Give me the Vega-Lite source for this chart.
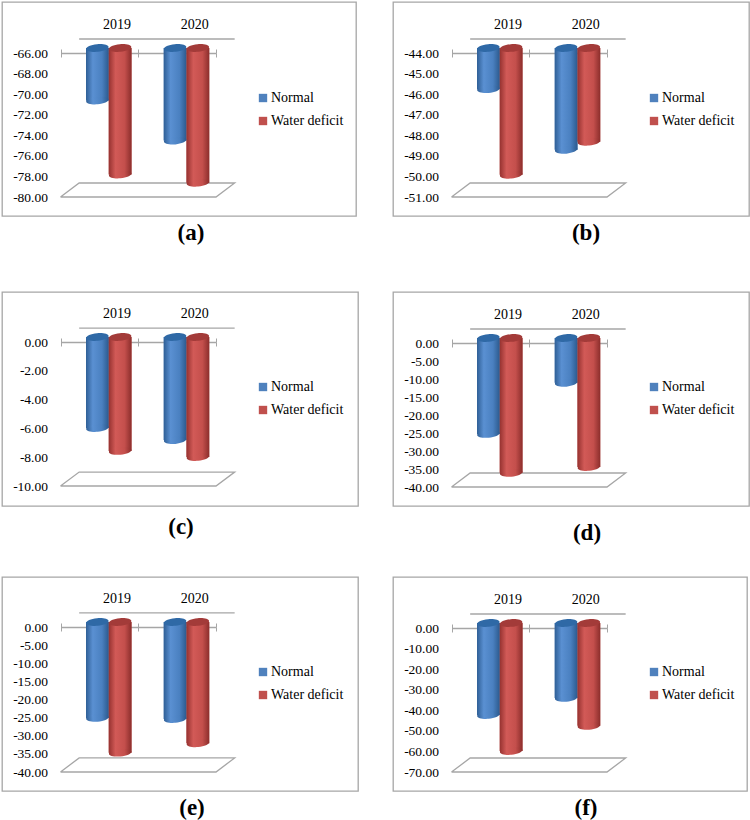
{"$schema":"https://vega.github.io/schema/vega-lite/v6.json","background":"white","padding":{"left":1,"top":1,"right":0,"bottom":0},"bounds":"flush","spacing":290,
"config":{"view":{"stroke":"#a6a6a6","strokeWidth":1.3},"font":"Liberation Serif","title":{"font":"Liberation Serif","fontSize":23,"fontWeight":"bold","color":"#000"}},
"resolve":{"legend":{"color":"independent"},"scale":{"color":"independent"}},
"datasets":{
"a":[{"year":"2019","series":"Normal","val":-71.1,"top":-66},{"year":"2019","series":"Water deficit","val":-78.3,"top":-66},{"year":"2020","series":"Normal","val":-75.0,"top":-66},{"year":"2020","series":"Water deficit","val":-79.1,"top":-66}],
"b":[{"year":"2019","series":"Normal","val":-46.0,"top":-44},{"year":"2019","series":"Water deficit","val":-50.16,"top":-44},{"year":"2020","series":"Normal","val":-48.95,"top":-44},{"year":"2020","series":"Water deficit","val":-48.56,"top":-44}],
"c":[{"year":"2019","series":"Normal","val":-6.32,"top":0},{"year":"2019","series":"Water deficit","val":-7.91,"top":0},{"year":"2020","series":"Normal","val":-7.16,"top":0},{"year":"2020","series":"Water deficit","val":-8.33,"top":0}],
"d":[{"year":"2019","series":"Normal","val":-26.65,"top":0},{"year":"2019","series":"Water deficit","val":-37.45,"top":0},{"year":"2020","series":"Normal","val":-12.45,"top":0},{"year":"2020","series":"Water deficit","val":-35.85,"top":0}],
"e":[{"year":"2019","series":"Normal","val":-26.45,"top":0},{"year":"2019","series":"Water deficit","val":-36.05,"top":0},{"year":"2020","series":"Normal","val":-26.75,"top":0},{"year":"2020","series":"Water deficit","val":-33.45,"top":0}],
"f":[{"year":"2019","series":"Normal","val":-44.7,"top":0},{"year":"2019","series":"Water deficit","val":-62.2,"top":0},{"year":"2020","series":"Normal","val":-36.4,"top":0},{"year":"2020","series":"Water deficit","val":-50,"top":0}],
"afloor":[{"part":"floor","i":0,"pos":0,"val":-80},{"part":"floor","i":1,"pos":0.24,"val":-78.64},{"part":"floor","i":2,"pos":2.24,"val":-78.64},{"part":"floor","i":3,"pos":2,"val":-80},{"part":"floor","i":4,"pos":0,"val":-80},{"part":"wall","i":0,"pos":0.24,"val":-64.64},{"part":"wall","i":1,"pos":2.24,"val":-64.64}],
"bfloor":[{"part":"floor","i":0,"pos":0,"val":-51},{"part":"floor","i":1,"pos":0.24,"val":-50.32},{"part":"floor","i":2,"pos":2.24,"val":-50.32},{"part":"floor","i":3,"pos":2,"val":-51},{"part":"floor","i":4,"pos":0,"val":-51},{"part":"wall","i":0,"pos":0.24,"val":-43.32},{"part":"wall","i":1,"pos":2.24,"val":-43.32}],
"cfloor":[{"part":"floor","i":0,"pos":0,"val":-10},{"part":"floor","i":1,"pos":0.24,"val":-9.03},{"part":"floor","i":2,"pos":2.24,"val":-9.03},{"part":"floor","i":3,"pos":2,"val":-10},{"part":"floor","i":4,"pos":0,"val":-10},{"part":"wall","i":0,"pos":0.24,"val":0.97},{"part":"wall","i":1,"pos":2.24,"val":0.97}],
"dfloor":[{"part":"floor","i":0,"pos":0,"val":-40},{"part":"floor","i":1,"pos":0.24,"val":-36.11},{"part":"floor","i":2,"pos":2.24,"val":-36.11},{"part":"floor","i":3,"pos":2,"val":-40},{"part":"floor","i":4,"pos":0,"val":-40},{"part":"wall","i":0,"pos":0.24,"val":3.89},{"part":"wall","i":1,"pos":2.24,"val":3.89}],
"ffloor":[{"part":"floor","i":0,"pos":0,"val":-70},{"part":"floor","i":1,"pos":0.24,"val":-63.2},{"part":"floor","i":2,"pos":2.24,"val":-63.2},{"part":"floor","i":3,"pos":2,"val":-70},{"part":"floor","i":4,"pos":0,"val":-70},{"part":"wall","i":0,"pos":0.24,"val":6.8},{"part":"wall","i":1,"pos":2.24,"val":6.8}]
},
"vconcat":[
{"hconcat":[
{"width":354,"height":214,"title":{"text":"(a)","orient":"bottom","offset":6,"dx":12},"data":{"name":"a"},"resolve":{"scale":{"x":"independent","xOffset":"independent"}},"layer":[
{"data":{"name":"afloor"},"mark":{"type":"line","color":"#a6a6a6","strokeWidth":1.3},"encoding":{"x":{"field":"pos","type":"quantitative","axis":null,"scale":{"domain":[0,2],"range":[58.5,214],"zero":false,"nice":false}},"y":{"field":"val","type":"quantitative","title":null,"scale":{"domain":[-80,-66],"range":[195,51],"nice":false,"zero":false},"axis":{"orient":"left","offset":-58.5,"values":[-66,-68,-70,-72,-74,-76,-78,-80],"tickCount":20,"domain":false,"ticks":false,"grid":false,"labelOverlap":false,"labelPadding":13,"labelFontSize":13.5,"labelFont":"Liberation Serif","labelColor":"#000","labelExpr":"replace(format(datum.value,'.2f'),'−','-')"}},"detail":{"field":"part"},"order":{"field":"i"}}},
{"mark":{"type":"bar","yOffset":-5,"y2Offset":-5},"encoding":{"x":{"field":"year","type":"nominal","title":null,"scale":{"range":[58.5,214],"paddingInner":0,"paddingOuter":0},"axis":{"orient":"top","offset":-51,"labelAngle":0,"tickBand":"extent","tickSize":4,"tickColor":"#a6a6a6","domainColor":"#a6a6a6","domainWidth":1.3,"labelFontSize":14,"labelFont":"Liberation Serif","labelColor":"#000","labelPadding":18,"labelOffset":17}},"xOffset":{"field":"series","type":"nominal","scale":{"range":[25.5,71]}},"y":{"field":"val","type":"quantitative"},"y2":{"field":"top"},"color":{"field":"series","type":"nominal","title":null,"scale":{"domain":["Normal","Water deficit"],"range":["#4f81bd","#c0504d"]},"legend":{"orient":"none","legendX":254,"legendY":89,"symbolType":"square","symbolSize":70,"symbolStrokeWidth":0,"labelFontSize":14,"labelFont":"Liberation Serif","labelColor":"#000","rowPadding":9,"labelOffset":1}}}},
{"mark":{"type":"bar","yOffset":-5,"y2Offset":-5},"encoding":{"x":{"field":"year","type":"nominal","axis":null,"scale":{"range":[58.5,214],"paddingInner":0,"paddingOuter":0}},"xOffset":{"field":"series","type":"nominal","scale":{"range":[25.5,71]}},"y":{"field":"val","type":"quantitative"},"y2":{"field":"top"},"color":{"condition":{"test":"datum.series==='Normal'","value":{"gradient":"linear","x1":0,"x2":1,"y1":0,"y2":0,"stops":[{"offset":0,"color":"#2f5f96"},{"offset":0.3,"color":"#5a90d2"},{"offset":0.7,"color":"#4a80c0"},{"offset":1,"color":"#2c5a8e"}]}},"value":{"gradient":"linear","x1":0,"x2":1,"y1":0,"y2":0,"stops":[{"offset":0,"color":"#963230"},{"offset":0.3,"color":"#d25a57"},{"offset":0.7,"color":"#c44f4c"},{"offset":1,"color":"#8c2e2c"}]}}}},
{"mark":{"type":"point","filled":true,"opacity":1,"shape":"M-1,0A1,0.34,0,1,1,1,0A1,0.34,0,1,1,-1,0Z","size":506,"yOffset":-5,"angle":-5},"encoding":{"x":{"field":"year","type":"nominal","scale":{"range":[58.5,214],"paddingInner":0,"paddingOuter":0},"axis":{"orient":"bottom","offset":-163,"labels":false,"domain":false,"title":null,"tickBand":"extent","tickSize":4,"tickColor":"#a6a6a6"}},"xOffset":{"field":"series","type":"nominal","scale":{"range":[25.5,71]}},"y":{"field":"val","type":"quantitative"},"color":{"condition":{"test":"datum.series==='Normal'","value":{"gradient":"linear","x1":0,"x2":1,"y1":0,"y2":0,"stops":[{"offset":0,"color":"#2f5f96"},{"offset":0.3,"color":"#5a90d2"},{"offset":0.7,"color":"#4a80c0"},{"offset":1,"color":"#2c5a8e"}]}},"value":{"gradient":"linear","x1":0,"x2":1,"y1":0,"y2":0,"stops":[{"offset":0,"color":"#963230"},{"offset":0.3,"color":"#d25a57"},{"offset":0.7,"color":"#c44f4c"},{"offset":1,"color":"#8c2e2c"}]}}}},
{"mark":{"type":"point","filled":true,"opacity":1,"shape":"M-1,0A1,0.34,0,1,1,1,0A1,0.34,0,1,1,-1,0Z","size":506,"yOffset":-5,"angle":-5},"encoding":{"x":{"field":"year","type":"nominal","axis":null,"scale":{"range":[58.5,214],"paddingInner":0,"paddingOuter":0}},"xOffset":{"field":"series","type":"nominal","scale":{"range":[25.5,71]}},"y":{"field":"top","type":"quantitative"},"color":{"condition":{"test":"datum.series==='Normal'","value":"#2f69a6"},"value":"#a33b39"}}}
]},
{"width":356,"height":214,"title":{"text":"(b)","orient":"bottom","offset":6,"dx":15},"data":{"name":"b"},"resolve":{"scale":{"x":"independent","xOffset":"independent"}},"layer":[
{"data":{"name":"bfloor"},"mark":{"type":"line","color":"#a6a6a6","strokeWidth":1.3},"encoding":{"x":{"field":"pos","type":"quantitative","axis":null,"scale":{"domain":[0,2],"range":[58.5,214],"zero":false,"nice":false}},"y":{"field":"val","type":"quantitative","title":null,"scale":{"domain":[-51,-44],"range":[195,51],"nice":false,"zero":false},"axis":{"orient":"left","offset":-58.5,"values":[-44,-45,-46,-47,-48,-49,-50,-51],"tickCount":20,"domain":false,"ticks":false,"grid":false,"labelOverlap":false,"labelPadding":13,"labelFontSize":13.5,"labelFont":"Liberation Serif","labelColor":"#000","labelExpr":"replace(format(datum.value,'.2f'),'−','-')"}},"detail":{"field":"part"},"order":{"field":"i"}}},
{"mark":{"type":"bar","yOffset":-5,"y2Offset":-5},"encoding":{"x":{"field":"year","type":"nominal","title":null,"scale":{"range":[58.5,214],"paddingInner":0,"paddingOuter":0},"axis":{"orient":"top","offset":-51,"labelAngle":0,"tickBand":"extent","tickSize":4,"tickColor":"#a6a6a6","domainColor":"#a6a6a6","domainWidth":1.3,"labelFontSize":14,"labelFont":"Liberation Serif","labelColor":"#000","labelPadding":18,"labelOffset":17}},"xOffset":{"field":"series","type":"nominal","scale":{"range":[25.5,71]}},"y":{"field":"val","type":"quantitative"},"y2":{"field":"top"},"color":{"field":"series","type":"nominal","title":null,"scale":{"domain":["Normal","Water deficit"],"range":["#4f81bd","#c0504d"]},"legend":{"orient":"none","legendX":254,"legendY":89,"symbolType":"square","symbolSize":70,"symbolStrokeWidth":0,"labelFontSize":14,"labelFont":"Liberation Serif","labelColor":"#000","rowPadding":9,"labelOffset":1}}}},
{"mark":{"type":"bar","yOffset":-5,"y2Offset":-5},"encoding":{"x":{"field":"year","type":"nominal","axis":null,"scale":{"range":[58.5,214],"paddingInner":0,"paddingOuter":0}},"xOffset":{"field":"series","type":"nominal","scale":{"range":[25.5,71]}},"y":{"field":"val","type":"quantitative"},"y2":{"field":"top"},"color":{"condition":{"test":"datum.series==='Normal'","value":{"gradient":"linear","x1":0,"x2":1,"y1":0,"y2":0,"stops":[{"offset":0,"color":"#2f5f96"},{"offset":0.3,"color":"#5a90d2"},{"offset":0.7,"color":"#4a80c0"},{"offset":1,"color":"#2c5a8e"}]}},"value":{"gradient":"linear","x1":0,"x2":1,"y1":0,"y2":0,"stops":[{"offset":0,"color":"#963230"},{"offset":0.3,"color":"#d25a57"},{"offset":0.7,"color":"#c44f4c"},{"offset":1,"color":"#8c2e2c"}]}}}},
{"mark":{"type":"point","filled":true,"opacity":1,"shape":"M-1,0A1,0.34,0,1,1,1,0A1,0.34,0,1,1,-1,0Z","size":506,"yOffset":-5,"angle":-5},"encoding":{"x":{"field":"year","type":"nominal","scale":{"range":[58.5,214],"paddingInner":0,"paddingOuter":0},"axis":{"orient":"bottom","offset":-163,"labels":false,"domain":false,"title":null,"tickBand":"extent","tickSize":4,"tickColor":"#a6a6a6"}},"xOffset":{"field":"series","type":"nominal","scale":{"range":[25.5,71]}},"y":{"field":"val","type":"quantitative"},"color":{"condition":{"test":"datum.series==='Normal'","value":{"gradient":"linear","x1":0,"x2":1,"y1":0,"y2":0,"stops":[{"offset":0,"color":"#2f5f96"},{"offset":0.3,"color":"#5a90d2"},{"offset":0.7,"color":"#4a80c0"},{"offset":1,"color":"#2c5a8e"}]}},"value":{"gradient":"linear","x1":0,"x2":1,"y1":0,"y2":0,"stops":[{"offset":0,"color":"#963230"},{"offset":0.3,"color":"#d25a57"},{"offset":0.7,"color":"#c44f4c"},{"offset":1,"color":"#8c2e2c"}]}}}},
{"mark":{"type":"point","filled":true,"opacity":1,"shape":"M-1,0A1,0.34,0,1,1,1,0A1,0.34,0,1,1,-1,0Z","size":506,"yOffset":-5,"angle":-5},"encoding":{"x":{"field":"year","type":"nominal","axis":null,"scale":{"range":[58.5,214],"paddingInner":0,"paddingOuter":0}},"xOffset":{"field":"series","type":"nominal","scale":{"range":[25.5,71]}},"y":{"field":"top","type":"quantitative"},"color":{"condition":{"test":"datum.series==='Normal'","value":"#2f69a6"},"value":"#a33b39"}}}
]}
],"bounds":"flush","spacing":37,"resolve":{"legend":{"color":"independent"},"scale":{"color":"independent"}}},
{"vconcat":[
{"hconcat":[
{"width":356,"height":214,"title":{"text":"(c)","orient":"bottom","offset":10,"dx":1},"data":{"name":"c"},"resolve":{"scale":{"x":"independent","xOffset":"independent"}},"layer":[
{"data":{"name":"cfloor"},"mark":{"type":"line","color":"#a6a6a6","strokeWidth":1.3},"encoding":{"x":{"field":"pos","type":"quantitative","axis":null,"scale":{"domain":[0,2],"range":[58.5,214],"zero":false,"nice":false}},"y":{"field":"val","type":"quantitative","title":null,"scale":{"domain":[-10,0],"range":[194,50],"nice":false,"zero":false},"axis":{"orient":"left","offset":-58.5,"values":[0,-2,-4,-6,-8,-10],"tickCount":20,"domain":false,"ticks":false,"grid":false,"labelOverlap":false,"labelPadding":13,"labelFontSize":13.5,"labelFont":"Liberation Serif","labelColor":"#000","labelExpr":"replace(format(datum.value,'.2f'),'−','-')"}},"detail":{"field":"part"},"order":{"field":"i"}}},
{"mark":{"type":"bar","yOffset":-5,"y2Offset":-5},"encoding":{"x":{"field":"year","type":"nominal","title":null,"scale":{"range":[58.5,214],"paddingInner":0,"paddingOuter":0},"axis":{"orient":"top","offset":-50,"labelAngle":0,"tickBand":"extent","tickSize":4,"tickColor":"#a6a6a6","domainColor":"#a6a6a6","domainWidth":1.3,"labelFontSize":14,"labelFont":"Liberation Serif","labelColor":"#000","labelPadding":18,"labelOffset":17}},"xOffset":{"field":"series","type":"nominal","scale":{"range":[25.5,71]}},"y":{"field":"val","type":"quantitative"},"y2":{"field":"top"},"color":{"field":"series","type":"nominal","title":null,"scale":{"domain":["Normal","Water deficit"],"range":["#4f81bd","#c0504d"]},"legend":{"orient":"none","legendX":254,"legendY":88,"symbolType":"square","symbolSize":70,"symbolStrokeWidth":0,"labelFontSize":14,"labelFont":"Liberation Serif","labelColor":"#000","rowPadding":9,"labelOffset":1}}}},
{"mark":{"type":"bar","yOffset":-5,"y2Offset":-5},"encoding":{"x":{"field":"year","type":"nominal","axis":null,"scale":{"range":[58.5,214],"paddingInner":0,"paddingOuter":0}},"xOffset":{"field":"series","type":"nominal","scale":{"range":[25.5,71]}},"y":{"field":"val","type":"quantitative"},"y2":{"field":"top"},"color":{"condition":{"test":"datum.series==='Normal'","value":{"gradient":"linear","x1":0,"x2":1,"y1":0,"y2":0,"stops":[{"offset":0,"color":"#2f5f96"},{"offset":0.3,"color":"#5a90d2"},{"offset":0.7,"color":"#4a80c0"},{"offset":1,"color":"#2c5a8e"}]}},"value":{"gradient":"linear","x1":0,"x2":1,"y1":0,"y2":0,"stops":[{"offset":0,"color":"#963230"},{"offset":0.3,"color":"#d25a57"},{"offset":0.7,"color":"#c44f4c"},{"offset":1,"color":"#8c2e2c"}]}}}},
{"mark":{"type":"point","filled":true,"opacity":1,"shape":"M-1,0A1,0.34,0,1,1,1,0A1,0.34,0,1,1,-1,0Z","size":506,"yOffset":-5,"angle":-5},"encoding":{"x":{"field":"year","type":"nominal","scale":{"range":[58.5,214],"paddingInner":0,"paddingOuter":0},"axis":{"orient":"bottom","offset":-164,"labels":false,"domain":false,"title":null,"tickBand":"extent","tickSize":4,"tickColor":"#a6a6a6"}},"xOffset":{"field":"series","type":"nominal","scale":{"range":[25.5,71]}},"y":{"field":"val","type":"quantitative"},"color":{"condition":{"test":"datum.series==='Normal'","value":{"gradient":"linear","x1":0,"x2":1,"y1":0,"y2":0,"stops":[{"offset":0,"color":"#2f5f96"},{"offset":0.3,"color":"#5a90d2"},{"offset":0.7,"color":"#4a80c0"},{"offset":1,"color":"#2c5a8e"}]}},"value":{"gradient":"linear","x1":0,"x2":1,"y1":0,"y2":0,"stops":[{"offset":0,"color":"#963230"},{"offset":0.3,"color":"#d25a57"},{"offset":0.7,"color":"#c44f4c"},{"offset":1,"color":"#8c2e2c"}]}}}},
{"mark":{"type":"point","filled":true,"opacity":1,"shape":"M-1,0A1,0.34,0,1,1,1,0A1,0.34,0,1,1,-1,0Z","size":506,"yOffset":-5,"angle":-5},"encoding":{"x":{"field":"year","type":"nominal","axis":null,"scale":{"range":[58.5,214],"paddingInner":0,"paddingOuter":0}},"xOffset":{"field":"series","type":"nominal","scale":{"range":[25.5,71]}},"y":{"field":"top","type":"quantitative"},"color":{"condition":{"test":"datum.series==='Normal'","value":"#2f69a6"},"value":"#a33b39"}}}
]},
{"width":356,"height":214,"title":{"text":"(d)","orient":"bottom","offset":16,"dx":16},"data":{"name":"d"},"resolve":{"scale":{"x":"independent","xOffset":"independent"}},"layer":[
{"data":{"name":"dfloor"},"mark":{"type":"line","color":"#a6a6a6","strokeWidth":1.3},"encoding":{"x":{"field":"pos","type":"quantitative","axis":null,"scale":{"domain":[0,2],"range":[58.5,214],"zero":false,"nice":false}},"y":{"field":"val","type":"quantitative","title":null,"scale":{"domain":[-40,0],"range":[195,51],"nice":false,"zero":false},"axis":{"orient":"left","offset":-58.5,"values":[0,-5,-10,-15,-20,-25,-30,-35,-40],"tickCount":20,"domain":false,"ticks":false,"grid":false,"labelOverlap":false,"labelPadding":13,"labelFontSize":13.5,"labelFont":"Liberation Serif","labelColor":"#000","labelExpr":"replace(format(datum.value,'.2f'),'−','-')"}},"detail":{"field":"part"},"order":{"field":"i"}}},
{"mark":{"type":"bar","yOffset":-5,"y2Offset":-5},"encoding":{"x":{"field":"year","type":"nominal","title":null,"scale":{"range":[58.5,214],"paddingInner":0,"paddingOuter":0},"axis":{"orient":"top","offset":-51,"labelAngle":0,"tickBand":"extent","tickSize":4,"tickColor":"#a6a6a6","domainColor":"#a6a6a6","domainWidth":1.3,"labelFontSize":14,"labelFont":"Liberation Serif","labelColor":"#000","labelPadding":18,"labelOffset":17}},"xOffset":{"field":"series","type":"nominal","scale":{"range":[25.5,71]}},"y":{"field":"val","type":"quantitative"},"y2":{"field":"top"},"color":{"field":"series","type":"nominal","title":null,"scale":{"domain":["Normal","Water deficit"],"range":["#4f81bd","#c0504d"]},"legend":{"orient":"none","legendX":254,"legendY":88,"symbolType":"square","symbolSize":70,"symbolStrokeWidth":0,"labelFontSize":14,"labelFont":"Liberation Serif","labelColor":"#000","rowPadding":9,"labelOffset":1}}}},
{"mark":{"type":"bar","yOffset":-5,"y2Offset":-5},"encoding":{"x":{"field":"year","type":"nominal","axis":null,"scale":{"range":[58.5,214],"paddingInner":0,"paddingOuter":0}},"xOffset":{"field":"series","type":"nominal","scale":{"range":[25.5,71]}},"y":{"field":"val","type":"quantitative"},"y2":{"field":"top"},"color":{"condition":{"test":"datum.series==='Normal'","value":{"gradient":"linear","x1":0,"x2":1,"y1":0,"y2":0,"stops":[{"offset":0,"color":"#2f5f96"},{"offset":0.3,"color":"#5a90d2"},{"offset":0.7,"color":"#4a80c0"},{"offset":1,"color":"#2c5a8e"}]}},"value":{"gradient":"linear","x1":0,"x2":1,"y1":0,"y2":0,"stops":[{"offset":0,"color":"#963230"},{"offset":0.3,"color":"#d25a57"},{"offset":0.7,"color":"#c44f4c"},{"offset":1,"color":"#8c2e2c"}]}}}},
{"mark":{"type":"point","filled":true,"opacity":1,"shape":"M-1,0A1,0.34,0,1,1,1,0A1,0.34,0,1,1,-1,0Z","size":506,"yOffset":-5,"angle":-5},"encoding":{"x":{"field":"year","type":"nominal","scale":{"range":[58.5,214],"paddingInner":0,"paddingOuter":0},"axis":{"orient":"bottom","offset":-163,"labels":false,"domain":false,"title":null,"tickBand":"extent","tickSize":4,"tickColor":"#a6a6a6"}},"xOffset":{"field":"series","type":"nominal","scale":{"range":[25.5,71]}},"y":{"field":"val","type":"quantitative"},"color":{"condition":{"test":"datum.series==='Normal'","value":{"gradient":"linear","x1":0,"x2":1,"y1":0,"y2":0,"stops":[{"offset":0,"color":"#2f5f96"},{"offset":0.3,"color":"#5a90d2"},{"offset":0.7,"color":"#4a80c0"},{"offset":1,"color":"#2c5a8e"}]}},"value":{"gradient":"linear","x1":0,"x2":1,"y1":0,"y2":0,"stops":[{"offset":0,"color":"#963230"},{"offset":0.3,"color":"#d25a57"},{"offset":0.7,"color":"#c44f4c"},{"offset":1,"color":"#8c2e2c"}]}}}},
{"mark":{"type":"point","filled":true,"opacity":1,"shape":"M-1,0A1,0.34,0,1,1,1,0A1,0.34,0,1,1,-1,0Z","size":506,"yOffset":-5,"angle":-5},"encoding":{"x":{"field":"year","type":"nominal","axis":null,"scale":{"range":[58.5,214],"paddingInner":0,"paddingOuter":0}},"xOffset":{"field":"series","type":"nominal","scale":{"range":[25.5,71]}},"y":{"field":"top","type":"quantitative"},"color":{"condition":{"test":"datum.series==='Normal'","value":"#2f69a6"},"value":"#a33b39"}}}
]}
],"bounds":"flush","spacing":35,"resolve":{"legend":{"color":"independent"},"scale":{"color":"independent"}}},
{"hconcat":[
{"width":356,"height":214,"title":{"text":"(e)","orient":"bottom","offset":6,"dx":12},"data":{"name":"e"},"resolve":{"scale":{"x":"independent","xOffset":"independent"}},"layer":[
{"data":{"name":"dfloor"},"mark":{"type":"line","color":"#a6a6a6","strokeWidth":1.3},"encoding":{"x":{"field":"pos","type":"quantitative","axis":null,"scale":{"domain":[0,2],"range":[58.5,214],"zero":false,"nice":false}},"y":{"field":"val","type":"quantitative","title":null,"scale":{"domain":[-40,0],"range":[195,50],"nice":false,"zero":false},"axis":{"orient":"left","offset":-58.5,"values":[0,-5,-10,-15,-20,-25,-30,-35,-40],"tickCount":20,"domain":false,"ticks":false,"grid":false,"labelOverlap":false,"labelPadding":13,"labelFontSize":13.5,"labelFont":"Liberation Serif","labelColor":"#000","labelExpr":"replace(format(datum.value,'.2f'),'−','-')"}},"detail":{"field":"part"},"order":{"field":"i"}}},
{"mark":{"type":"bar","yOffset":-5,"y2Offset":-5},"encoding":{"x":{"field":"year","type":"nominal","title":null,"scale":{"range":[58.5,214],"paddingInner":0,"paddingOuter":0},"axis":{"orient":"top","offset":-50,"labelAngle":0,"tickBand":"extent","tickSize":4,"tickColor":"#a6a6a6","domainColor":"#a6a6a6","domainWidth":1.3,"labelFontSize":14,"labelFont":"Liberation Serif","labelColor":"#000","labelPadding":18,"labelOffset":17}},"xOffset":{"field":"series","type":"nominal","scale":{"range":[25.5,71]}},"y":{"field":"val","type":"quantitative"},"y2":{"field":"top"},"color":{"field":"series","type":"nominal","title":null,"scale":{"domain":["Normal","Water deficit"],"range":["#4f81bd","#c0504d"]},"legend":{"orient":"none","legendX":254,"legendY":88,"symbolType":"square","symbolSize":70,"symbolStrokeWidth":0,"labelFontSize":14,"labelFont":"Liberation Serif","labelColor":"#000","rowPadding":9,"labelOffset":1}}}},
{"mark":{"type":"bar","yOffset":-5,"y2Offset":-5},"encoding":{"x":{"field":"year","type":"nominal","axis":null,"scale":{"range":[58.5,214],"paddingInner":0,"paddingOuter":0}},"xOffset":{"field":"series","type":"nominal","scale":{"range":[25.5,71]}},"y":{"field":"val","type":"quantitative"},"y2":{"field":"top"},"color":{"condition":{"test":"datum.series==='Normal'","value":{"gradient":"linear","x1":0,"x2":1,"y1":0,"y2":0,"stops":[{"offset":0,"color":"#2f5f96"},{"offset":0.3,"color":"#5a90d2"},{"offset":0.7,"color":"#4a80c0"},{"offset":1,"color":"#2c5a8e"}]}},"value":{"gradient":"linear","x1":0,"x2":1,"y1":0,"y2":0,"stops":[{"offset":0,"color":"#963230"},{"offset":0.3,"color":"#d25a57"},{"offset":0.7,"color":"#c44f4c"},{"offset":1,"color":"#8c2e2c"}]}}}},
{"mark":{"type":"point","filled":true,"opacity":1,"shape":"M-1,0A1,0.34,0,1,1,1,0A1,0.34,0,1,1,-1,0Z","size":506,"yOffset":-5,"angle":-5},"encoding":{"x":{"field":"year","type":"nominal","scale":{"range":[58.5,214],"paddingInner":0,"paddingOuter":0},"axis":{"orient":"bottom","offset":-164,"labels":false,"domain":false,"title":null,"tickBand":"extent","tickSize":4,"tickColor":"#a6a6a6"}},"xOffset":{"field":"series","type":"nominal","scale":{"range":[25.5,71]}},"y":{"field":"val","type":"quantitative"},"color":{"condition":{"test":"datum.series==='Normal'","value":{"gradient":"linear","x1":0,"x2":1,"y1":0,"y2":0,"stops":[{"offset":0,"color":"#2f5f96"},{"offset":0.3,"color":"#5a90d2"},{"offset":0.7,"color":"#4a80c0"},{"offset":1,"color":"#2c5a8e"}]}},"value":{"gradient":"linear","x1":0,"x2":1,"y1":0,"y2":0,"stops":[{"offset":0,"color":"#963230"},{"offset":0.3,"color":"#d25a57"},{"offset":0.7,"color":"#c44f4c"},{"offset":1,"color":"#8c2e2c"}]}}}},
{"mark":{"type":"point","filled":true,"opacity":1,"shape":"M-1,0A1,0.34,0,1,1,1,0A1,0.34,0,1,1,-1,0Z","size":506,"yOffset":-5,"angle":-5},"encoding":{"x":{"field":"year","type":"nominal","axis":null,"scale":{"range":[58.5,214],"paddingInner":0,"paddingOuter":0}},"xOffset":{"field":"series","type":"nominal","scale":{"range":[25.5,71]}},"y":{"field":"top","type":"quantitative"},"color":{"condition":{"test":"datum.series==='Normal'","value":"#2f69a6"},"value":"#a33b39"}}}
]},
{"width":354,"height":214,"title":{"text":"(f)","orient":"bottom","offset":6,"dx":16},"data":{"name":"f"},"resolve":{"scale":{"x":"independent","xOffset":"independent"}},"layer":[
{"data":{"name":"ffloor"},"mark":{"type":"line","color":"#a6a6a6","strokeWidth":1.3},"encoding":{"x":{"field":"pos","type":"quantitative","axis":null,"scale":{"domain":[0,2],"range":[58.5,214],"zero":false,"nice":false}},"y":{"field":"val","type":"quantitative","title":null,"scale":{"domain":[-70,0],"range":[195,51],"nice":false,"zero":false},"axis":{"orient":"left","offset":-58.5,"values":[0,-10,-20,-30,-40,-50,-60,-70],"tickCount":20,"domain":false,"ticks":false,"grid":false,"labelOverlap":false,"labelPadding":13,"labelFontSize":13.5,"labelFont":"Liberation Serif","labelColor":"#000","labelExpr":"replace(format(datum.value,'.2f'),'−','-')"}},"detail":{"field":"part"},"order":{"field":"i"}}},
{"mark":{"type":"bar","yOffset":-5,"y2Offset":-5},"encoding":{"x":{"field":"year","type":"nominal","title":null,"scale":{"range":[58.5,214],"paddingInner":0,"paddingOuter":0},"axis":{"orient":"top","offset":-51,"labelAngle":0,"tickBand":"extent","tickSize":4,"tickColor":"#a6a6a6","domainColor":"#a6a6a6","domainWidth":1.3,"labelFontSize":14,"labelFont":"Liberation Serif","labelColor":"#000","labelPadding":18,"labelOffset":17}},"xOffset":{"field":"series","type":"nominal","scale":{"range":[25.5,71]}},"y":{"field":"val","type":"quantitative"},"y2":{"field":"top"},"color":{"field":"series","type":"nominal","title":null,"scale":{"domain":["Normal","Water deficit"],"range":["#4f81bd","#c0504d"]},"legend":{"orient":"none","legendX":254,"legendY":88,"symbolType":"square","symbolSize":70,"symbolStrokeWidth":0,"labelFontSize":14,"labelFont":"Liberation Serif","labelColor":"#000","rowPadding":9,"labelOffset":1}}}},
{"mark":{"type":"bar","yOffset":-5,"y2Offset":-5},"encoding":{"x":{"field":"year","type":"nominal","axis":null,"scale":{"range":[58.5,214],"paddingInner":0,"paddingOuter":0}},"xOffset":{"field":"series","type":"nominal","scale":{"range":[25.5,71]}},"y":{"field":"val","type":"quantitative"},"y2":{"field":"top"},"color":{"condition":{"test":"datum.series==='Normal'","value":{"gradient":"linear","x1":0,"x2":1,"y1":0,"y2":0,"stops":[{"offset":0,"color":"#2f5f96"},{"offset":0.3,"color":"#5a90d2"},{"offset":0.7,"color":"#4a80c0"},{"offset":1,"color":"#2c5a8e"}]}},"value":{"gradient":"linear","x1":0,"x2":1,"y1":0,"y2":0,"stops":[{"offset":0,"color":"#963230"},{"offset":0.3,"color":"#d25a57"},{"offset":0.7,"color":"#c44f4c"},{"offset":1,"color":"#8c2e2c"}]}}}},
{"mark":{"type":"point","filled":true,"opacity":1,"shape":"M-1,0A1,0.34,0,1,1,1,0A1,0.34,0,1,1,-1,0Z","size":506,"yOffset":-5,"angle":-5},"encoding":{"x":{"field":"year","type":"nominal","scale":{"range":[58.5,214],"paddingInner":0,"paddingOuter":0},"axis":{"orient":"bottom","offset":-163,"labels":false,"domain":false,"title":null,"tickBand":"extent","tickSize":4,"tickColor":"#a6a6a6"}},"xOffset":{"field":"series","type":"nominal","scale":{"range":[25.5,71]}},"y":{"field":"val","type":"quantitative"},"color":{"condition":{"test":"datum.series==='Normal'","value":{"gradient":"linear","x1":0,"x2":1,"y1":0,"y2":0,"stops":[{"offset":0,"color":"#2f5f96"},{"offset":0.3,"color":"#5a90d2"},{"offset":0.7,"color":"#4a80c0"},{"offset":1,"color":"#2c5a8e"}]}},"value":{"gradient":"linear","x1":0,"x2":1,"y1":0,"y2":0,"stops":[{"offset":0,"color":"#963230"},{"offset":0.3,"color":"#d25a57"},{"offset":0.7,"color":"#c44f4c"},{"offset":1,"color":"#8c2e2c"}]}}}},
{"mark":{"type":"point","filled":true,"opacity":1,"shape":"M-1,0A1,0.34,0,1,1,1,0A1,0.34,0,1,1,-1,0Z","size":506,"yOffset":-5,"angle":-5},"encoding":{"x":{"field":"year","type":"nominal","axis":null,"scale":{"range":[58.5,214],"paddingInner":0,"paddingOuter":0}},"xOffset":{"field":"series","type":"nominal","scale":{"range":[25.5,71]}},"y":{"field":"top","type":"quantitative"},"color":{"condition":{"test":"datum.series==='Normal'","value":"#2f69a6"},"value":"#a33b39"}}}
]}
],"bounds":"flush","spacing":35,"resolve":{"legend":{"color":"independent"},"scale":{"color":"independent"}}}
],"bounds":"flush","spacing":285,"resolve":{"legend":{"color":"independent"},"scale":{"color":"independent"}}}
]}
